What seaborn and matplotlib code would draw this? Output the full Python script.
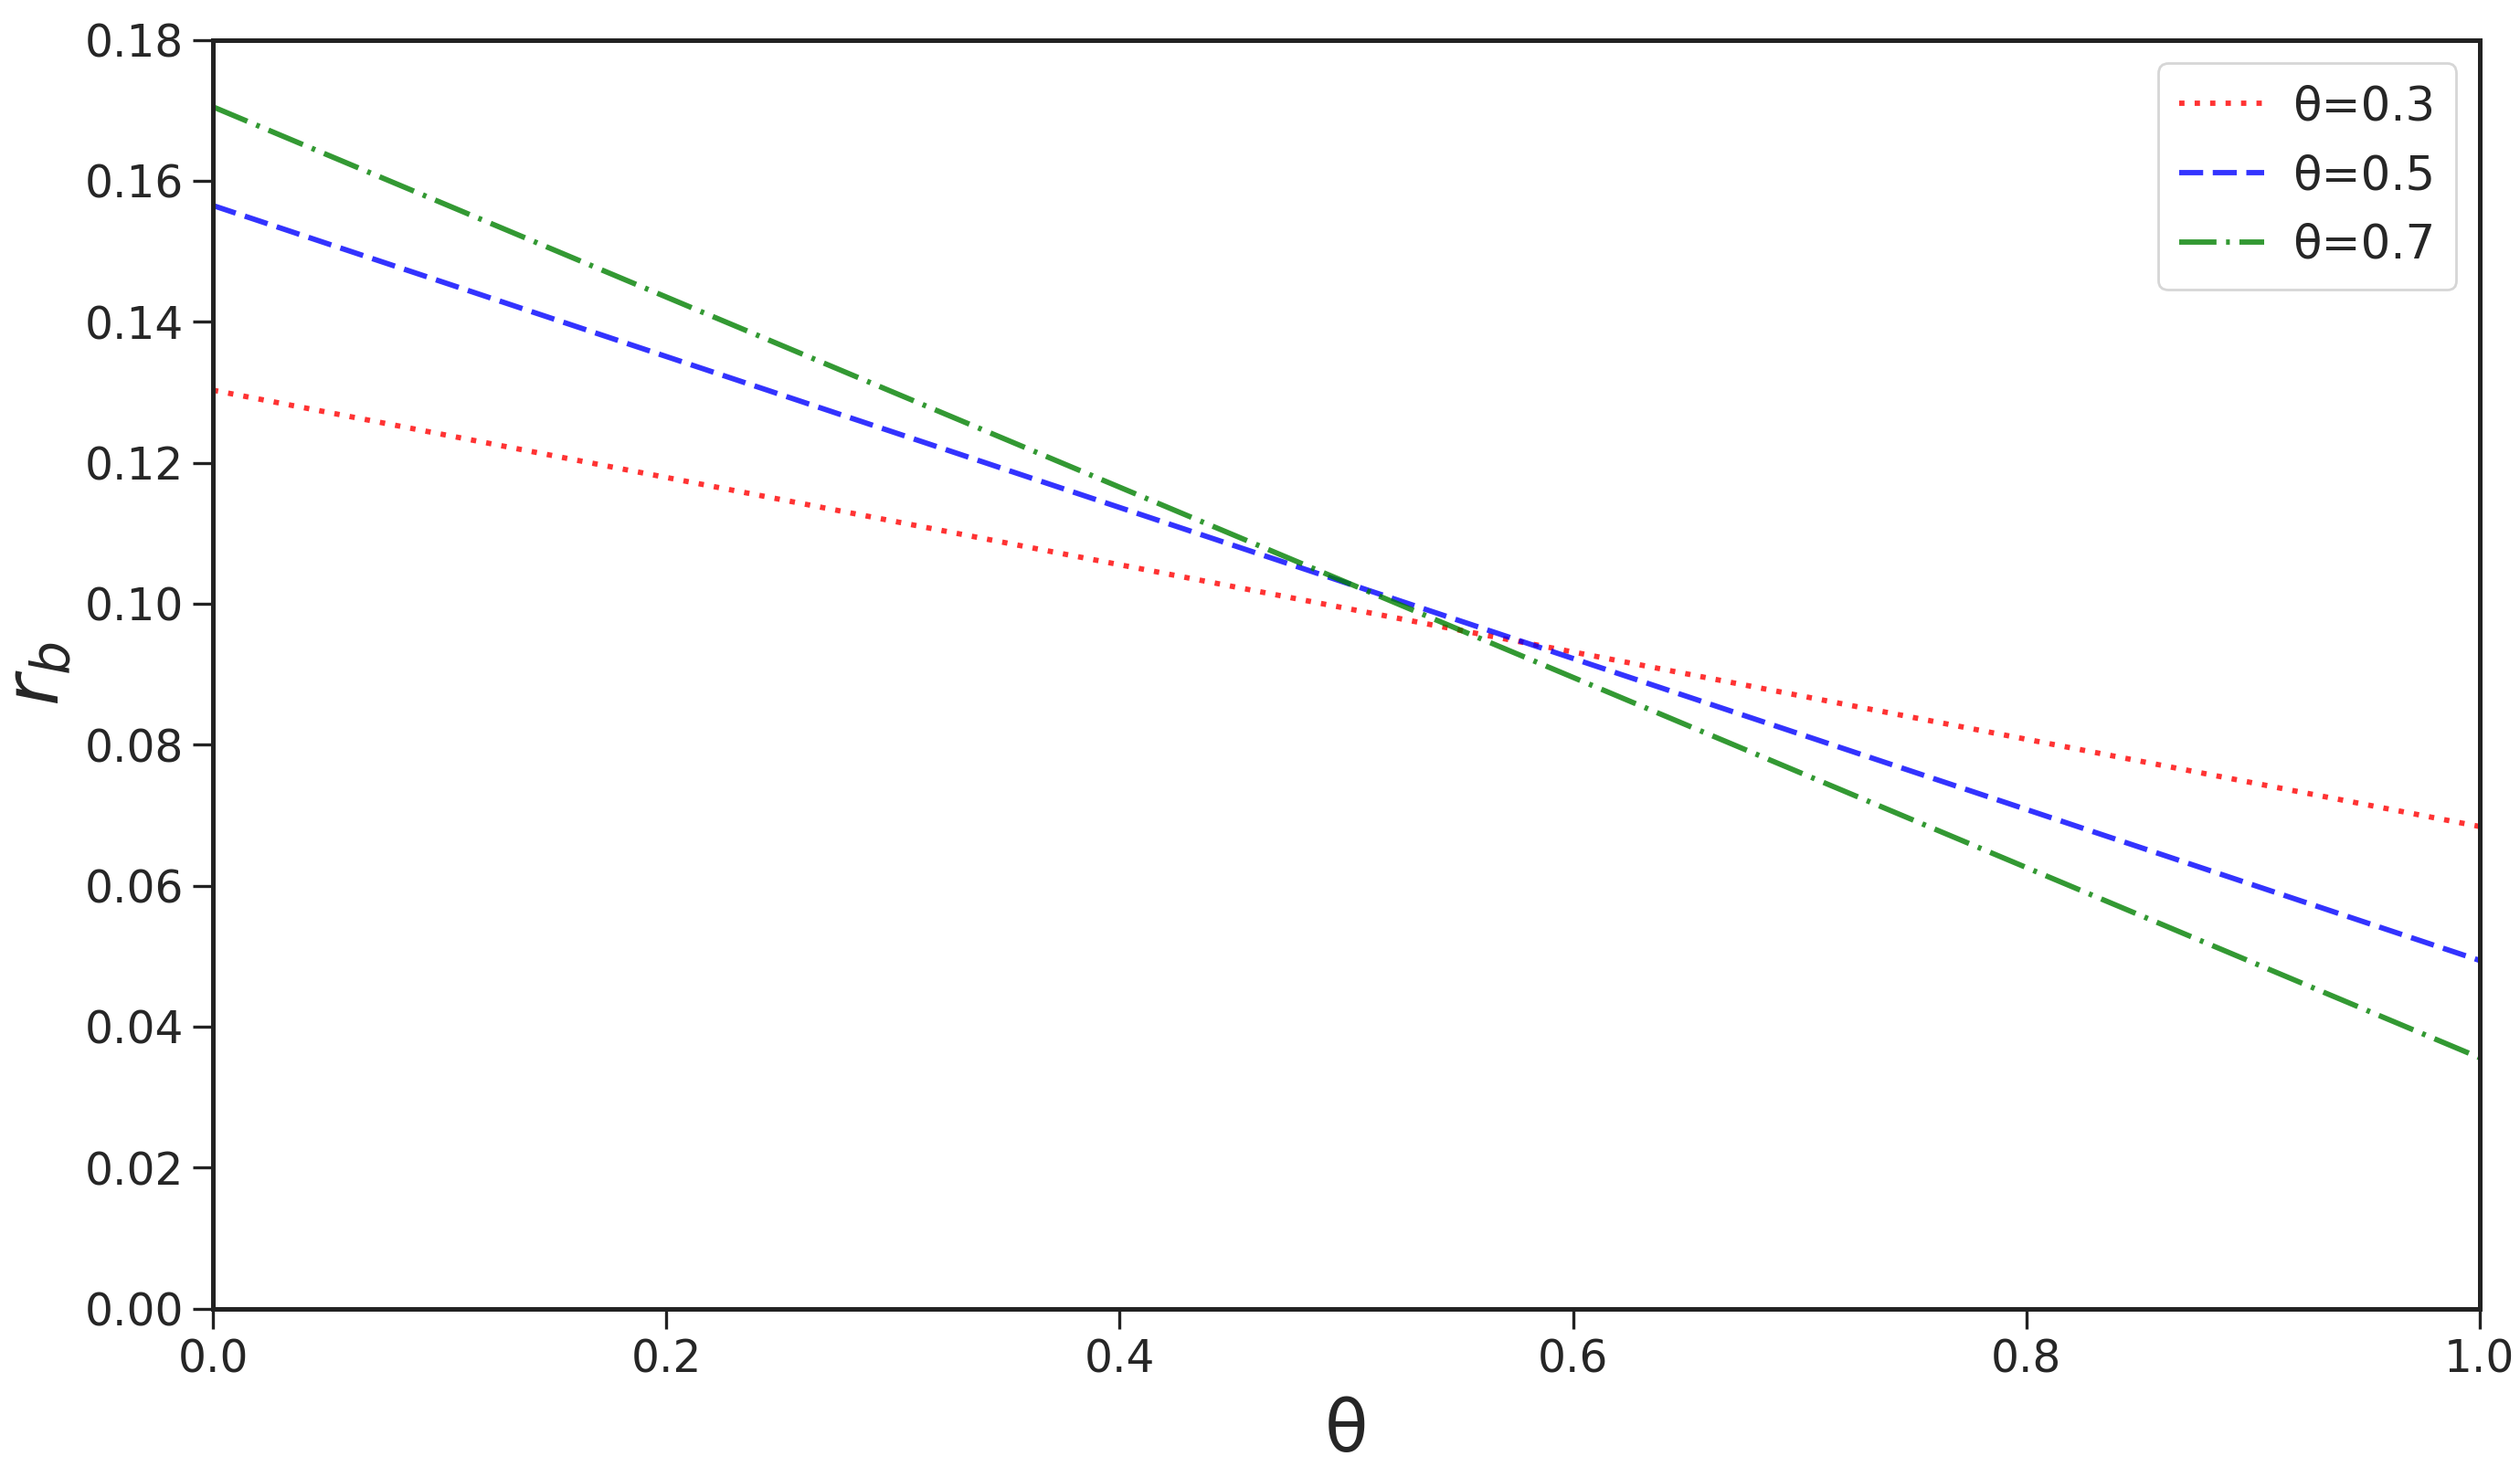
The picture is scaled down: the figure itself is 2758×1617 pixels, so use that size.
import pandas as pd
import matplotlib
matplotlib.use("Agg")
import matplotlib.pyplot as plt
import seaborn as sns

# values (straight lines, endpoints)
theta_x = [0.0, 1.0]
rb_03 = [0.1303, 0.0684]
rb_05 = [0.1565, 0.0494]
rb_07 = [0.1705, 0.0356]
labels = ["θ=0.3", "θ=0.5", "θ=0.7"]

series = [rb_03, rb_05, rb_07]
colors = ["red", "blue", "green"]
styles = [(0, (1.0, 1.9)), (0, (4.5, 1.8)), (0, (7.0, 1.8, 0.7, 1.8))]

sns.set_style("ticks")
plt.rcParams['font.family'] = ['DejaVu Sans']
plt.rcParams['mathtext.fontset'] = 'dejavusans'

fig, ax = plt.subplots(figsize=(13.79, 8.085), dpi=200)
fig.subplots_adjust(left=0.0845, right=0.984, top=0.973, bottom=0.114)

for vals, lab, c, ls in zip(series, labels, colors, styles):
    df = pd.DataFrame({'theta': theta_x, 'rb': vals})
    sns.lineplot(data=df, x='theta', y='rb', ax=ax, color=c, alpha=0.8,
                 linestyle=ls, linewidth=2.1, label=lab)

ax.set_xlim(0, 1)
ax.set_ylim(0, 0.18)
ax.set_xticks([0.0, 0.2, 0.4, 0.6, 0.8, 1.0])
ax.set_yticks([0.00, 0.02, 0.04, 0.06, 0.08, 0.10, 0.12, 0.14, 0.16, 0.18])
ax.set_yticklabels([f"{v:.2f}" for v in ax.get_yticks()])
ax.set_xticklabels([f"{v:.1f}" for v in ax.get_xticks()])
ax.tick_params(labelsize=17.5, length=8, width=1.2, color='#222222')
for s in ax.spines.values():
    s.set_linewidth(1.8)
    s.set_color('#222222')

ax.set_xlabel("θ", fontsize=28, labelpad=6)
ax.set_ylabel("$r_b$", fontsize=30, labelpad=4)

leg = ax.legend(loc='upper right', fontsize=18.5, frameon=True, framealpha=0.8,
                edgecolor='#cccccc', handlelength=1.8, handletextpad=0.6,
                borderpad=0.45, borderaxespad=0.5)

plt.savefig("out.png", dpi=200)
